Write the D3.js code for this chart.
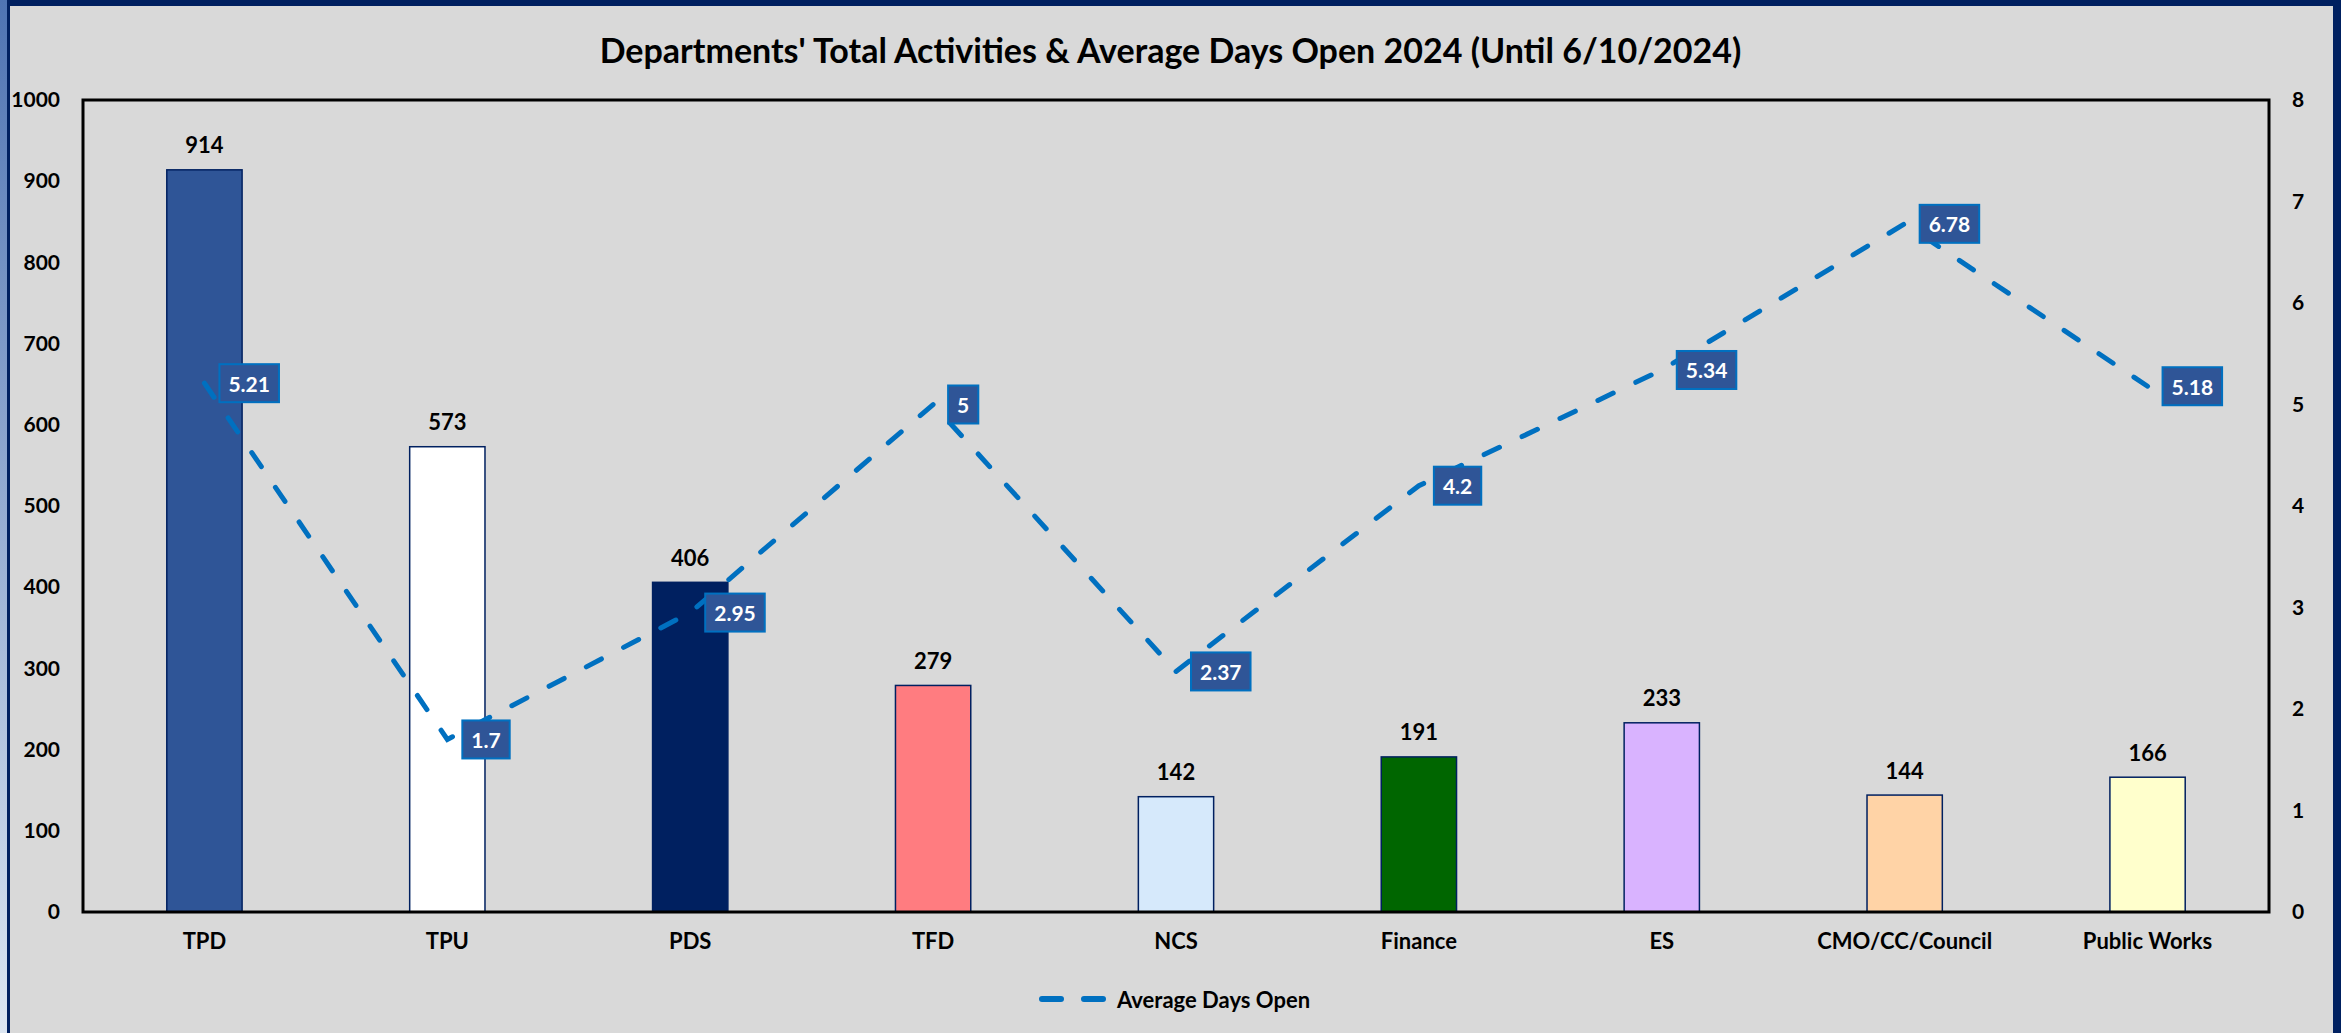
<!DOCTYPE html>
<html>
<head>
<meta charset="utf-8">
<script src="https://cdn.jsdelivr.net/npm/d3@7"></script>
<style>
  html, body { margin: 0; padding: 0; background: #D9D9D9; }
  svg { display: block; }
  text { font-family: Lato, "Open Sans", sans-serif; font-weight: bold; fill: #000; }
</style>
</head>
<body>
<svg id="chart" width="2341" height="1033"></svg>
<script>
const title = "Departments' Total Activities & Average Days Open 2024 (Until 6/10/2024)";
const categories = ["TPD", "TPU", "PDS", "TFD", "NCS", "Finance", "ES", "CMO/CC/Council", "Public Works"];
const activities = [914, 573, 406, 279, 142, 191, 233, 144, 166];
const avgDaysOpen = [5.21, 1.7, 2.95, 5, 2.37, 4.2, 5.34, 6.78, 5.18];
const barColors = ["#2F5597", "#FFFFFF", "#002060", "#FF7C80", "#D6E9FB", "#006600", "#D9B3FF", "#FFD3A6", "#FFFFCC"];
const leftTicks = [0, 100, 200, 300, 400, 500, 600, 700, 800, 900, 1000];
const rightTicks = [0, 1, 2, 3, 4, 5, 6, 7, 8];
const lineName = "Average Days Open";

const W = 2341, H = 1033;
const svg = d3.select("#chart");

// frame
const defs = svg.append("defs");
const grad = defs.append("linearGradient").attr("id", "edge").attr("x1", 0).attr("y1", 0).attr("x2", 0).attr("y2", 1);
grad.append("stop").attr("offset", "0%").attr("stop-color", "#4F74B3");
grad.append("stop").attr("offset", "100%").attr("stop-color", "#DCE6F2");
svg.append("rect").attr("x", 0).attr("y", 0).attr("width", W).attr("height", H).attr("fill", "url(#edge)");
svg.append("rect").attr("x", 7).attr("y", 0).attr("width", W - 7).attr("height", H).attr("fill", "#002060");
svg.append("rect").attr("x", 10).attr("y", 6).attr("width", 2323).attr("height", H - 6).attr("fill", "#D9D9D9");

const m = { left: 83, right: 2269, top: 100, bottom: 912 };

const x = d3.scaleBand().domain(categories).range([m.left, m.right]).paddingInner(0.69).paddingOuter(0.345);
const yL = d3.scaleLinear().domain([0, 1000]).range([m.bottom, m.top]);
const yR = d3.scaleLinear().domain([0, 8]).range([m.bottom, m.top]);

// title
svg.append("text").attr("x", W / 2).attr("y", 49).attr("text-anchor", "middle")
  .attr("dominant-baseline", "central").style("font-size", "34px").text(title);

// bars
svg.append("g").selectAll("rect").data(categories).join("rect")
  .attr("x", d => x(d)).attr("width", x.bandwidth())
  .attr("y", (d, i) => yL(activities[i])).attr("height", (d, i) => yL(0) - yL(activities[i]))
  .attr("fill", (d, i) => barColors[i]).attr("stroke", "#002060").attr("stroke-width", 1.5);

// bar labels
svg.append("g").selectAll("text").data(categories).join("text")
  .attr("x", d => x(d) + x.bandwidth() / 2).attr("y", (d, i) => yL(activities[i]) - 25)
  .attr("text-anchor", "middle").attr("dominant-baseline", "central")
  .style("font-size", "22px").text((d, i) => activities[i]);

// plot frame
svg.append("rect").attr("x", m.left).attr("y", m.top).attr("width", m.right - m.left).attr("height", m.bottom - m.top)
  .attr("fill", "none").attr("stroke", "#000").attr("stroke-width", 3);

// axes
const axL = svg.append("g").attr("transform", `translate(${m.left},0)`)
  .call(d3.axisLeft(yL).tickValues(leftTicks).tickFormat(d3.format("d")).tickSize(0).tickPadding(23));
axL.select(".domain").remove();
axL.selectAll("text").style("font-size", "21px").style("font-family", "Lato, sans-serif").attr("fill", "#000");

const axR = svg.append("g").attr("transform", `translate(${m.right},0)`)
  .call(d3.axisRight(yR).tickValues(rightTicks).tickFormat(d3.format("d")).tickSize(0).tickPadding(23));
axR.select(".domain").remove();
axR.selectAll("text").style("font-size", "21px").style("font-family", "Lato, sans-serif").attr("fill", "#000");

const axB = svg.append("g").attr("transform", `translate(0,${m.bottom})`)
  .call(d3.axisBottom(x).tickSize(0).tickPadding(30));
axB.select(".domain").remove();
axB.selectAll("text").style("font-size", "22px").style("font-family", "Lato, sans-serif").attr("fill", "#000")
  .attr("dy", "0.32em").attr("y", 30);

// line
const cx = d => x(d) + x.bandwidth() / 2;
const line = d3.line().x((d, i) => cx(categories[i])).y(d => yR(d));
svg.append("path").datum(avgDaysOpen).attr("d", line).attr("fill", "none")
  .attr("stroke", "#0070C0").attr("stroke-width", 5).attr("stroke-linecap", "round")
  .attr("stroke-dasharray", "17 25");

// line labels
const lab = svg.append("g").selectAll("g").data(avgDaysOpen).join("g")
  .attr("transform", (d, i) => `translate(${cx(categories[i]) + 15},${yR(d)})`);
lab.append("text").attr("x", 9).attr("y", 0).attr("dominant-baseline", "central")
  .style("font-size", "21px").style("fill", "#fff").text(d => d);
lab.each(function() {
  const g = d3.select(this);
  const w = g.select("text").node().getComputedTextLength();
  g.insert("rect", "text").attr("x", 0).attr("y", -19).attr("width", w + 18).attr("height", 38)
    .attr("fill", "#2F5597").attr("stroke", "#0070C0").attr("stroke-width", 2);
});

// legend
const lg = svg.append("g");
lg.append("line").attr("x1", 1042).attr("x2", 1103).attr("y1", 999).attr("y2", 999)
  .attr("stroke", "#0070C0").attr("stroke-width", 6).attr("stroke-linecap", "round").attr("stroke-dasharray", "19 23");
lg.append("text").attr("x", 1117).attr("y", 999).attr("dominant-baseline", "central").style("font-size", "22px").text(lineName);
</script>
</body>
</html>
